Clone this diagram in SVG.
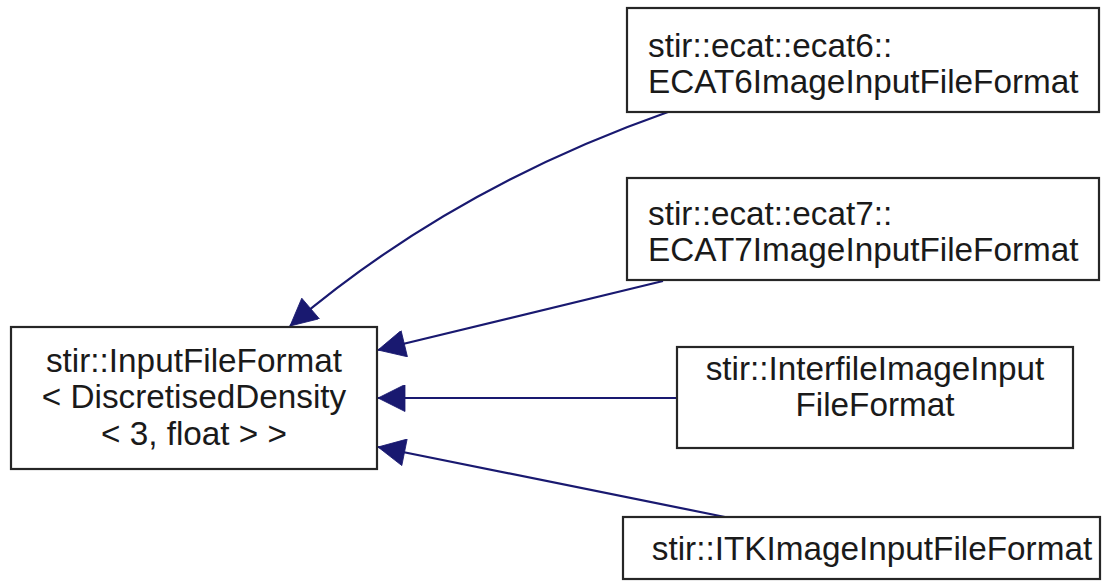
<svg xmlns="http://www.w3.org/2000/svg" width="1109" height="584" viewBox="0 0 1109 584">
  <style>
    .box { fill: #ffffff; stroke: #262626; stroke-width: 2.2; }
    .lbl { font-family: "Liberation Sans", Arial, sans-serif; font-size: 33.3px; fill: #1a1a1a; }
    .mid { text-anchor: middle; }
    .edge { fill: none; stroke: #191970; stroke-width: 2.2; }
  </style>
  <defs>
    <marker id="head" viewBox="0 0 10 10" refX="10" refY="5" markerWidth="37" markerHeight="27" markerUnits="userSpaceOnUse" orient="auto">
      <path d="M0,0 L10,5 L0,10 z" fill="#191970" stroke="#191970" stroke-width="0.3"/>
    </marker>
  </defs>
  <rect width="1109" height="584" fill="#ffffff"/>

  <!-- inheritance connectors, derived class to base class -->
  <g id="connectors">
    <path class="edge" marker-end="url(#head)" d="M668,112 C560,150 420,215 290,326"/>
    <path class="edge" marker-end="url(#head)" d="M663,281 L378,350"/>
    <path class="edge" marker-end="url(#head)" d="M677,398 L378,398"/>
    <path class="edge" marker-end="url(#head)" d="M725,517 L378,447"/>
  </g>

  <g id="node-base">
    <rect class="box" x="11" y="327" width="366" height="142"/>
    <text class="lbl mid" x="194" y="372">stir::InputFileFormat</text>
    <text class="lbl mid" x="194" y="408">&lt; DiscretisedDensity</text>
    <text class="lbl mid" x="194" y="445">&lt; 3, float &gt; &gt;</text>
  </g>

  <g id="node-ecat6">
    <rect class="box" x="627" y="8" width="472" height="104"/>
    <text class="lbl" x="648" y="57">stir::ecat::ecat6::</text>
    <text class="lbl" x="648" y="93">ECAT6ImageInputFileFormat</text>
  </g>

  <g id="node-ecat7">
    <rect class="box" x="627" y="178" width="472" height="102"/>
    <text class="lbl" x="648" y="225">stir::ecat::ecat7::</text>
    <text class="lbl" x="648" y="261">ECAT7ImageInputFileFormat</text>
  </g>

  <g id="node-interfile">
    <rect class="box" x="677" y="347" width="396" height="101"/>
    <text class="lbl mid" x="875" y="380">stir::InterfileImageInput</text>
    <text class="lbl mid" x="875" y="416">FileFormat</text>
  </g>

  <g id="node-itk">
    <rect class="box" x="623" y="517" width="477" height="62"/>
    <text class="lbl mid" x="872" y="560">stir::ITKImageInputFileFormat</text>
  </g>
</svg>
